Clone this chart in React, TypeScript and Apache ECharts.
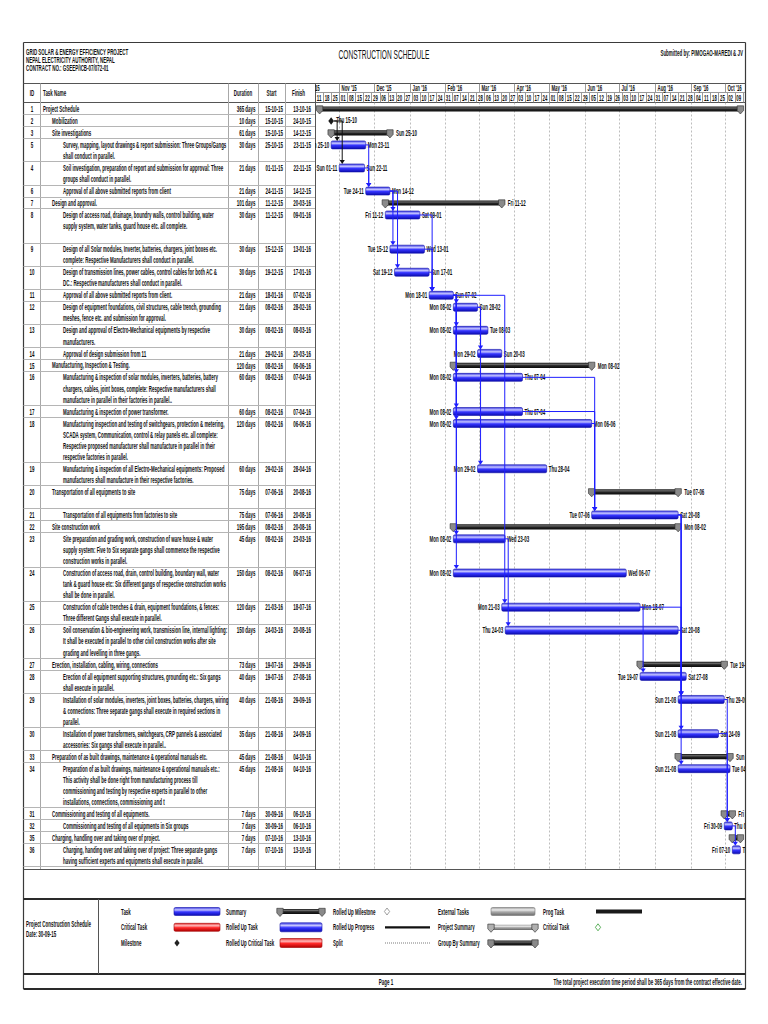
import React, { useEffect, useRef } from "react";
import * as echarts from "echarts";

// ---------------- data ----------------
const taskIds = [1, 2, 3, 5, 4, 6, 7, 8, 9, 10, 11, 12, 13, 14, 15, 16, 17, 18, 19, 20, 21, 22, 23, 24, 25, 26, 27, 28, 29, 30, 33, 34, 31, 32, 35, 36];
const outlineLevels = [0, 1, 1, 2, 2, 2, 1, 2, 2, 2, 2, 2, 2, 2, 1, 2, 2, 2, 2, 1, 2, 1, 2, 2, 2, 2, 1, 2, 2, 2, 1, 2, 1, 2, 1, 2];
// S = summary, M = milestone, T = task
const taskKinds = ["S", "M", "S", "T", "T", "T", "S", "T", "T", "T", "T", "T", "T", "T", "S", "T", "T", "T", "T", "S", "T", "S", "T", "T", "T", "T", "S", "T", "T", "T", "S", "T", "S", "T", "S", "T"];
const taskNames = [
  "Project Schedule",
  "Mobilization",
  "Site investigations",
  "Survey, mapping, layout drawings & report submission: Three Groups/Gangs\nshall conduct in parallel.",
  "Soil investigation, preparation of report and submission for approval: Three\ngroups shall conduct in parallel.",
  "Approval of all above submitted reports from client",
  "Design and approval.",
  "Design of access road, drainage, boundry walls, control building, water\nsupply system, water tanks, guard house etc. all complete.\n",
  "Design of all Solar modules, Inverter, batteries, chargers, joint boxes etc.\ncomplete: Respective Manufacturers shall conduct in parallel.",
  "Design of transmission lines, power cables, control cables for both AC &\nDC.: Respective manufacturers shall conduct in parallel.",
  "Approval of all above submitted reports from client.",
  "Design of equipment foundations, civil structures, cable trench, grounding\nmeshes, fence etc. and submission for approval.",
  "Design and approval of Electro-Mechanical equipments by respective\nmanufacturers.",
  "Approval of design submission from 11",
  "Manufacturing, Inspection & Testing.",
  "Manufacturing & inspection of solar modules, inverters, batteries, battery\nchargers, cables, joint boxes, complete: Respective manufacturers shall\nmanufacture in parallel in their factories in parallel..",
  "Manufacturing & inspection of power transformer.",
  "Manufacturing inspection and testing of switchgears, protection & metering,\nSCADA system, Communication, control & relay panels etc. all complete:\nRespective proposed manufacturer shall manufacture in parallel in their\nrespective factories in parallel.",
  "Manufacturing & inspection of all Electro-Mechanical equipments: Proposed\nmanufacturers shall manufacture in their respective factories.",
  "Transportation of all equipments to site\n",
  "Transportation of all equipments from factories to site",
  "Site construction work",
  "Site preparation and grading work, construction of ware house & water\nsupply system: Five to Six separate gangs shall commence the respective\nconstruction works in parallel.",
  "Construction of access road, drain, control building, boundary wall, water\ntank & guard house etc: Six different gangs of respective construction works\nshall be done in parallel.",
  "Construction of cable trenches & drain, equipment foundations, & fences:\nThree different Gangs shall execute in parallel.",
  "Soil conservation & bio-engineering work, transmission line, internal lighting:\nIt shall be executed in parallel to other civil construction works after site\ngrading and levelling in three gangs.",
  "Erection, installation, cabling, wiring, connections",
  "Erection of all equipment supporting structures, grounding etc.: Six gangs\nshall execute in parallel.",
  "Installation of solar modules, inverters, joint boxes, batteries, chargers, wiring\n& connections: Three separate gangs shall execute in required sections in\nparallel.",
  "Installation of power transformers, switchgears, CRP pannels & associated\naccessories: Six gangs shall execute in parallel..",
  "Preparation of as built drawings, maintenance & operational manuals etc.",
  "Preparation of as built drawings, maintenance & operational manuals etc.:\nThis activity shall be done right from manufacturing process till\ncommissioning and testing by respective experts in parallel to other\ninstallations, connections, commissioning and t",
  "Commissioning and testing of all equipments.",
  "Commissioning and testing of all equipments in Six groups",
  "Charging, handling over and taking over of project.",
  "Charging, handing over and taking over of project: Three separate gangs\nhaving sufficient experts and equipments shall execute in parallel.",
];
const durations = ["365 days", "10 days", "61 days", "30 days", "21 days", "21 days", "101 days", "30 days", "30 days", "30 days", "21 days", "21 days", "30 days", "21 days", "120 days", "60 days", "60 days", "120 days", "60 days", "75 days", "75 days", "195 days", "45 days", "150 days", "120 days", "150 days", "73 days", "40 days", "40 days", "35 days", "45 days", "45 days", "7 days", "7 days", "7 days", "7 days"];
const startDates = ["15-10-15", "15-10-15", "15-10-15", "25-10-15", "01-11-15", "24-11-15", "11-12-15", "11-12-15", "15-12-15", "19-12-15", "18-01-16", "08-02-16", "08-02-16", "29-02-16", "08-02-16", "08-02-16", "08-02-16", "08-02-16", "29-02-16", "07-06-16", "07-06-16", "08-02-16", "08-02-16", "08-02-16", "21-03-16", "24-03-16", "19-07-16", "19-07-16", "21-08-16", "21-08-16", "21-08-16", "21-08-16", "30-09-16", "30-09-16", "07-10-16", "07-10-16"];
const finishDates = ["13-10-16", "24-10-15", "14-12-15", "23-11-15", "22-11-15", "14-12-15", "20-03-16", "09-01-16", "13-01-16", "17-01-16", "07-02-16", "28-02-16", "08-03-16", "20-03-16", "06-06-16", "07-04-16", "07-04-16", "06-06-16", "28-04-16", "20-08-16", "20-08-16", "20-08-16", "23-03-16", "06-07-16", "18-07-16", "20-08-16", "29-09-16", "27-08-16", "29-09-16", "24-09-16", "04-10-16", "04-10-16", "06-10-16", "06-10-16", "13-10-16", "13-10-16"];
// predecessor id -> successor id
const links: [number, number][] = [
  [2, 5], [2, 4], [5, 6], [4, 6], [6, 8], [6, 9], [6, 10], [8, 11], [9, 11], [10, 11],
  [11, 12], [11, 13], [11, 16], [11, 17], [11, 18], [11, 23], [11, 24], [11, 25],
  [12, 14], [12, 19], [16, 21], [17, 21], [18, 21], [23, 26], [25, 28], [25, 29],
  [21, 29], [26, 29], [21, 30], [21, 34], [29, 32], [30, 32], [32, 36],
];
const monthLabels = ["Oct '15", "Nov '15", "Dec '15", "Jan '16", "Feb '16", "Mar '16", "Apr '16", "May '16", "Jun '16", "Jul '16", "Aug '16", "Sep '16", "Oct '16"];
const monthStarts = ["01-10-15", "01-11-15", "01-12-15", "01-01-16", "01-02-16", "01-03-16", "01-04-16", "01-05-16", "01-06-16", "01-07-16", "01-08-16", "01-09-16", "01-10-16"];
const weekLabels = ["11", "18", "25", "01", "08", "15", "22", "29", "06", "13", "20", "27", "03", "10", "17", "24", "31", "07", "14", "21", "28", "06", "13", "20", "27", "03", "10", "17", "24", "01", "08", "15", "22", "29", "05", "12", "19", "26", "03", "10", "17", "24", "31", "07", "14", "21", "28", "04", "11", "18", "25", "02", "09"];
const firstWeekStart = "11-10-15";
const timelineEnd = "18-10-16";

const titleLines = ["GRID SOLAR & ENERGY EFFICIENCY PROJECT", "NEPAL ELECTRICITY AUTHORITY, NEPAL", "CONTRACT NO.: GSEEP/ICB-07/072-01"];
const docTitle = "CONSTRUCTION SCHEDULE";
const submittedBy = "Submitted by: PIMOGAO-MAREDI & JV";
const columnHeaders = ["ID", "Task Name", "Duration", "Start", "Finish"];
const legendInfo = ["Project Construction Schedule", "Date: 30-09-15"];
const legendLabels = [
  ["Task", "Critical Task", "Milestone"],
  ["Summary", "Rolled Up Task", "Rolled Up Critical Task"],
  ["Rolled Up Milestone", "Rolled Up Progress", "Split"],
  ["External Tasks", "Project Summary", "Group By Summary"],
  ["Prog Task", "Critical Task"],
];
const footerPage = "Page 1";
const footerNote = "The total project execution time period shall be 365 days from the contract effective date.";

// ---------------- helpers ----------------
const DAY = 86400000;
const WEEKDAYS = ["Sun", "Mon", "Tue", "Wed", "Thu", "Fri", "Sat"];
function parseDate(s: string) {
  const [d, m, y] = s.split("-").map(Number);
  return Date.UTC(2000 + y, m - 1, d);
}
function barLabel(t: number) {
  const d = new Date(t);
  return WEEKDAYS[d.getUTCDay()] + " " + String(d.getUTCDate()).padStart(2, "0") + "-" + String(d.getUTCMonth() + 1).padStart(2, "0");
}
const CALIB = "Manufacturing inspection and testing of switchgears, protection & metering,";

// layout
const FRAME_L = 23.5, FRAME_R = 745.5;
const TL_L = 315, TL_R = 745;
const TITLE_TOP = 42.5, HEAD_TOP = 83.5, HEAD_MID = 92.5, BODY_TOP = 102.5, BODY_BOT = 869.5;
const LEG_TOP = 899, LEG_SEP = 974, LEG_BOT = 989;
const COLS = [40.5, 228.5, 258.5, 285.5];
const LINE_H = 11.1, ROW_PAD = 0.87, TEXT_OFF = 6.5;
const INDENT = [43, 52, 63];
const INK = "#111111";

export default function App() {
  const ref = useRef<HTMLDivElement>(null);
  useEffect(() => {
    const el = ref.current!;
    const chart = echarts.init(el, null, { renderer: "svg" });
    const ctx = document.createElement("canvas").getContext("2d")!;
    const FAM = '"Liberation Sans", Arial, sans-serif';
    const F = (size: number, bold = true) => `${bold ? "bold " : ""}${size}px ${FAM}`;
    const measure = (s: string, font: string) => { ctx.font = font; return ctx.measureText(s).width; };
    const BASE = F(8.4);
    let SX = 161 / measure(CALIB, BASE);
    if (!isFinite(SX) || SX <= 0) SX = 0.5;
    SX = Math.min(0.8, Math.max(0.3, SX));

    const T = (x: number, y: number, text: string, align = "left", font = BASE, sx = SX, valign = "middle", extra: any = {}) => ({
      type: "text", x, y, scaleX: sx, silent: true,
      style: { text, font, fill: INK, textAlign: align, textVerticalAlign: valign, align, verticalAlign: valign, ...extra },
    });
    const L = (x1: number, y1: number, x2: number, y2: number, stroke: string, lw = 1, dash?: number[]) => ({
      type: "line", silent: true, shape: { x1, y1, x2, y2 }, style: { stroke, lineWidth: lw, lineDash: dash },
    });
    const grad = (c: string[]) => new echarts.graphic.LinearGradient(0, 0, 0, 1, [
      { offset: 0, color: c[0] }, { offset: 0.3, color: c[1] }, { offset: 0.55, color: c[2] }, { offset: 1, color: c[3] },
    ]);
    const BLUE = grad(["#3a3ae6", "#c4c4ff", "#3535ff", "#0c0cb0"]);
    const RED = grad(["#e83030", "#ffb8b8", "#ff2a2a", "#b00000"]);
    const GREY = grad(["#9a9a9a", "#ececec", "#aaaaaa", "#6a6a6a"]);
    const DARK = grad(["#111111", "#6a6a6a", "#262626", "#0a0a0a"]);
    const taskBar = (x0: number, x1: number, yc: number, fill: any, stroke = "#1212a8", h = 8) => ({
      type: "rect", silent: true, shape: { x: x0, y: yc - h / 2, width: Math.max(1, x1 - x0), height: h, r: 1.5 },
      style: { fill, stroke, lineWidth: 0.6 },
    });
    const cap = (x: number, yc: number, fill: string) => ({
      type: "polygon", silent: true,
      shape: { points: [[x - 3.2, yc - 3.2], [x + 3.2, yc - 3.2], [x + 3.2, yc + 1.5], [x, yc + 5], [x - 3.2, yc + 1.5]] },
      style: { fill, stroke: "#2a2a2a", lineWidth: 0.6 },
    });
    const summaryShape = (x0: number, x1: number, yc: number, barFill: any, capFill: string) => [
      { type: "rect", silent: true, shape: { x: x0, y: yc - 2.6, width: Math.max(1, x1 - x0), height: 5.2 }, style: { fill: barFill } },
      cap(x0, yc, capFill), cap(x1, yc, capFill),
    ];
    const diamond = (x: number, yc: number, r: number, fill: string, stroke = "none") => ({
      type: "polygon", silent: true,
      shape: { points: [[x, yc - r], [x + r * 0.75, yc], [x, yc + r], [x - r * 0.75, yc]] },
      style: { fill, stroke, lineWidth: 0.8 },
    });

    // ---- row model ----
    const n = taskIds.length;
    const rowHeights = taskNames.map((s) => s.split("\n").length * LINE_H + ROW_PAD);
    const rowTops: number[] = [];
    let acc = 0;
    rowHeights.forEach((h) => { rowTops.push(acc); acc += h; });
    const idIndex = new Map(taskIds.map((id, i) => [id, i]));
    const starts = startDates.map(parseDate);
    const finishes = finishDates.map(parseDate);
    const barStart: number[] = [], barEnd: number[] = [];
    for (let i = 0; i < n; i++) {
      if (taskKinds[i] === "S") {
        let s = Infinity, f = -Infinity;
        for (let j = i + 1; j < n && outlineLevels[j] > outlineLevels[i]; j++) {
          if (taskKinds[j] === "S") continue;
          s = Math.min(s, starts[j]);
          f = Math.max(f, finishes[j] + DAY);
        }
        barStart.push(s); barEnd.push(f);
      } else {
        barStart.push(starts[i]); barEnd.push(finishes[i] + DAY);
      }
    }
    const xMin = parseDate(firstWeekStart);
    const xMax = parseDate(timelineEnd);
    const bodyH = BODY_BOT - BODY_TOP;

    // ---- static graphics ----
    const g: any[] = [];
    g.push(L(FRAME_L, TITLE_TOP, FRAME_L, LEG_BOT, "#3a3a3a", 1.2));
    g.push(L(FRAME_R, TITLE_TOP, FRAME_R, LEG_BOT, "#3a3a3a", 1.2));
    g.push(L(FRAME_L, TITLE_TOP, FRAME_R, TITLE_TOP, "#3a3a3a", 1.2));
    g.push(L(FRAME_L, HEAD_TOP, FRAME_R, HEAD_TOP, "#555", 1));
    g.push(L(FRAME_L, BODY_TOP, FRAME_R, BODY_TOP, "#555", 1));
    g.push(L(TL_L, HEAD_MID, TL_R, HEAD_MID, "#9a9a9a", 1));
    COLS.forEach((x) => g.push(L(x, HEAD_TOP, x, BODY_BOT, "#a8a8a8", 1)));
    g.push(L(TL_L + 0.5, HEAD_TOP, TL_L + 0.5, BODY_BOT, "#555", 1));
    g.push(L(FRAME_L, BODY_BOT, FRAME_R, BODY_BOT, "#555", 1));
    g.push(L(FRAME_L, LEG_TOP, FRAME_R, LEG_TOP, "#2a2a2a", 2));
    g.push(L(FRAME_L, LEG_SEP, FRAME_R, LEG_SEP, "#2a2a2a", 2));
    g.push(L(FRAME_L, LEG_BOT, FRAME_R, LEG_BOT, "#2a2a2a", 2));
    g.push(L(98.5, LEG_TOP, 98.5, LEG_SEP, "#555", 1));

    titleLines.forEach((s, k) => g.push(T(26, 51.5 + k * 8, s, "left", F(8.4))));
    const titleFont = F(13.5, false);
    g.push(T(384, 53.5, docTitle, "center", titleFont, 91 / Math.max(1, measure(docTitle, titleFont))));
    g.push(T(743, 52.5, submittedBy, "right", F(8.4)));
    const hy = (HEAD_TOP + BODY_TOP) / 2;
    g.push(T(32, hy, columnHeaders[0], "center"));
    g.push(T(43, hy, columnHeaders[1], "left"));
    g.push(T(243, hy, columnHeaders[2], "center"));
    g.push(T(271.5, hy, columnHeaders[3], "center"));
    g.push(T(298.5, hy, columnHeaders[4], "center"));

    // legend
    const ly = [911.5, 927.3, 943];
    const lx = [121, 226, 333, 438, 543];
    const sw = [[174, 220], [280, 322], [385, 430], [491, 535], [596, 642]];
    legendLabels.forEach((col, c) => col.forEach((s, r) => g.push(T(lx[c], ly[r], s, "left"))));
    g.push(T(26, 924.3, legendInfo[0], "left"));
    g.push(T(26, 934.3, legendInfo[1], "left"));
    g.push(taskBar(sw[0][0], sw[0][1], ly[0], BLUE));
    g.push(taskBar(sw[0][0], sw[0][1], ly[1], RED, "#a00000"));
    g.push(diamond(sw[0][0] + 3, ly[2], 3.5, "#222"));
    summaryShape(sw[1][0], sw[1][1], ly[0], DARK, "#8a8a8a").forEach((e) => g.push(e));
    g.push(taskBar(sw[1][0], sw[1][1], ly[1], BLUE, "#1212a8", 9));
    g.push(taskBar(sw[1][0], sw[1][1], ly[2], RED, "#a00000", 9));
    g.push(diamond(sw[2][0] + 2, ly[0], 3.5, "#fff", "#888"));
    g.push(L(sw[2][0], ly[1], sw[2][1], ly[1], "#111", 2.2));
    g.push(L(sw[2][0], ly[2], sw[2][1], ly[2], "#bdbdbd", 2, [1, 1]));
    g.push(taskBar(sw[3][0], sw[3][1], ly[0], GREY, "#777"));
    summaryShape(sw[3][0], sw[3][1], ly[1], GREY, "#b0b0b0").forEach((e) => g.push(e));
    summaryShape(sw[3][0], sw[3][1], ly[2], DARK, "#8a8a8a").forEach((e) => g.push(e));
    g.push({ type: "rect", silent: true, shape: { x: sw[4][0], y: ly[0] - 2, width: sw[4][1] - sw[4][0], height: 4 }, style: { fill: "#1a1a1a" } });
    g.push(diamond(sw[4][0] + 2, ly[1], 3.5, "#fff", "#3aa03a"));
    g.push(T(386, 981.5, footerPage, "center"));
    g.push(T(742, 981.5, footerNote, "right"));

    // ---- series ----
    const rowData = taskIds.map((_, i) => [barStart[i], rowTops[i] + TEXT_OFF, i]);
    const ycOf = (api: any, i: number) => api.coord([xMin, rowTops[i] + TEXT_OFF])[1];

    const option: any = {
      animation: false,
      backgroundColor: "#ffffff",
      graphic: { elements: g },
      grid: [
        { left: TL_L, right: 768 - TL_R, top: HEAD_TOP, height: BODY_TOP - HEAD_TOP },
        { left: TL_L, right: 768 - TL_R, top: BODY_TOP, height: bodyH },
      ],
      xAxis: [
        { type: "time", gridIndex: 0, min: xMin, max: xMax, show: false },
        { type: "time", gridIndex: 1, min: xMin, max: xMax, show: false },
      ],
      yAxis: [
        { type: "value", gridIndex: 0, min: 0, max: 2, inverse: true, show: false },
        { type: "value", gridIndex: 1, min: 0, max: bodyH, inverse: true, show: false },
      ],
      series: [
        {
          // month tier
          type: "custom", xAxisIndex: 0, yAxisIndex: 0, clip: true, silent: true,
          data: monthStarts.map((s, i) => [parseDate(s), 0.5, i]),
          renderItem: (params: any, api: any) => {
            const i = api.value(2);
            const cs = params.coordSys;
            const x = Math.round(api.coord([api.value(0), 0])[0]) + 0.5;
            return {
              type: "group", children: [
                L(x, cs.y, x, HEAD_MID, "#9a9a9a", 1),
                T(x + 2, (cs.y + HEAD_MID) / 2 + 0.3, monthLabels[i], "left", F(8.2)),
              ],
            };
          },
        },
        {
          // week tier
          type: "custom", xAxisIndex: 0, yAxisIndex: 0, clip: true, silent: true,
          data: weekLabels.map((_, i) => [xMin + i * 7 * DAY, 1.5, i]),
          renderItem: (params: any, api: any) => {
            const i = api.value(2);
            const cs = params.coordSys;
            const t = api.value(0);
            const x0 = api.coord([t, 0])[0];
            const x1 = api.coord([t + 7 * DAY, 0])[0];
            const xl = Math.round(x1) + 0.5;
            return {
              type: "group", children: [
                L(xl, HEAD_MID, xl, cs.y + cs.height, "#9a9a9a", 1),
                T((x0 + x1) / 2, (HEAD_MID + cs.y + cs.height) / 2 + 0.3, weekLabels[i], "center", F(8.2)),
              ],
            };
          },
        },
        {
          // month gridlines in the body
          type: "custom", xAxisIndex: 1, yAxisIndex: 1, clip: true, silent: true, z: 1,
          data: monthStarts.map((s, i) => [parseDate(s), 0, i]),
          renderItem: (params: any, api: any) => {
            const cs = params.coordSys;
            const x = Math.round(api.coord([api.value(0), 0])[0]) + 0.5;
            return L(x, cs.y, x, cs.y + cs.height, "#bdbdbd", 1, [2, 2]);
          },
        },
        {
          // bars + date labels
          type: "custom", xAxisIndex: 1, yAxisIndex: 1, clip: true, silent: true, z: 3,
          data: rowData,
          renderItem: (params: any, api: any) => {
            const i = api.value(2);
            const kind = taskKinds[i];
            const yc = ycOf(api, i);
            const x0 = api.coord([barStart[i], 0])[0];
            const x1 = api.coord([barEnd[i], 0])[0];
            const ch: any[] = [];
            if (kind === "T") {
              ch.push(taskBar(x0, x1, yc, BLUE));
              ch.push(T(x0 - 2, yc, barLabel(barStart[i]), "right"));
              ch.push(T(x1 + 2, yc, barLabel(finishes[i]), "left"));
            } else if (kind === "S") {
              summaryShape(x0, x1, yc, DARK, "#8a8a8a").forEach((e) => ch.push(e));
              ch.push(T(x1 + 6, yc, barLabel(barStart[i]), "left"));
            } else {
              ch.push(diamond(x1, yc, 3.8, "#1a1a1a"));
              ch.push(T(x1 + 5, yc - 1, barLabel(starts[i]), "left"));
            }
            return { type: "group", children: ch };
          },
        },
        {
          // dependency links
          type: "custom", xAxisIndex: 1, yAxisIndex: 1, clip: true, silent: true, z: 4,
          data: links.map(([a], k) => [barEnd[idIndex.get(a)!], 0, k]),
          renderItem: (params: any, api: any) => {
            const k = api.value(2);
            const pi = idIndex.get(links[k][0])!;
            const si = idIndex.get(links[k][1])!;
            const color = taskKinds[pi] === "M" ? "#111111" : "#1e1eff";
            const xPe = api.coord([barEnd[pi], 0])[0] + (taskKinds[pi] === "M" ? 3 : 0);
            const xSs = api.coord([barStart[si], 0])[0];
            const xl = Math.max(xPe, xSs) + 3;
            const yP = ycOf(api, pi);
            const yS = ycOf(api, si) - 4;
            return {
              type: "group", children: [
                { type: "polyline", silent: true, shape: { points: [[xPe, yP], [xl, yP], [xl, yS - 3]] }, style: { stroke: color, lineWidth: 1, fill: "none" } },
                { type: "polygon", silent: true, shape: { points: [[xl - 2.6, yS - 4], [xl + 2.6, yS - 4], [xl, yS]] }, style: { fill: color } },
              ],
            };
          },
        },
        {
          // table
          type: "custom", xAxisIndex: 1, yAxisIndex: 1, clip: false, silent: true, z: 2,
          data: rowData,
          renderItem: (params: any, api: any) => {
            const i = api.value(2);
            const yTop = api.coord([xMin, rowTops[i]])[1];
            const yBot = Math.round(api.coord([xMin, rowTops[i] + rowHeights[i]])[1]) + 0.5;
            const yc = yTop + TEXT_OFF;
            return {
              type: "group", children: [
                L(FRAME_L, yBot, TL_L, yBot, "#b5b5b5", 1),
                T(32, yc, String(taskIds[i]), "center"),
                T(INDENT[outlineLevels[i]], yc - LINE_H / 2, taskNames[i], "left", BASE, SX, "top", { lineHeight: LINE_H }),
                T(255.5, yc, durations[i], "right"),
                T(283, yc, startDates[i], "right"),
                T(311, yc, finishDates[i], "right"),
              ],
            };
          },
        },
      ],
    };
    chart.setOption(option);
    return () => chart.dispose();
  }, []);
  return <div ref={ref} style={{ position: "fixed", left: 0, top: 0, width: 768, height: 1024, background: "#fff" }} />;
}
